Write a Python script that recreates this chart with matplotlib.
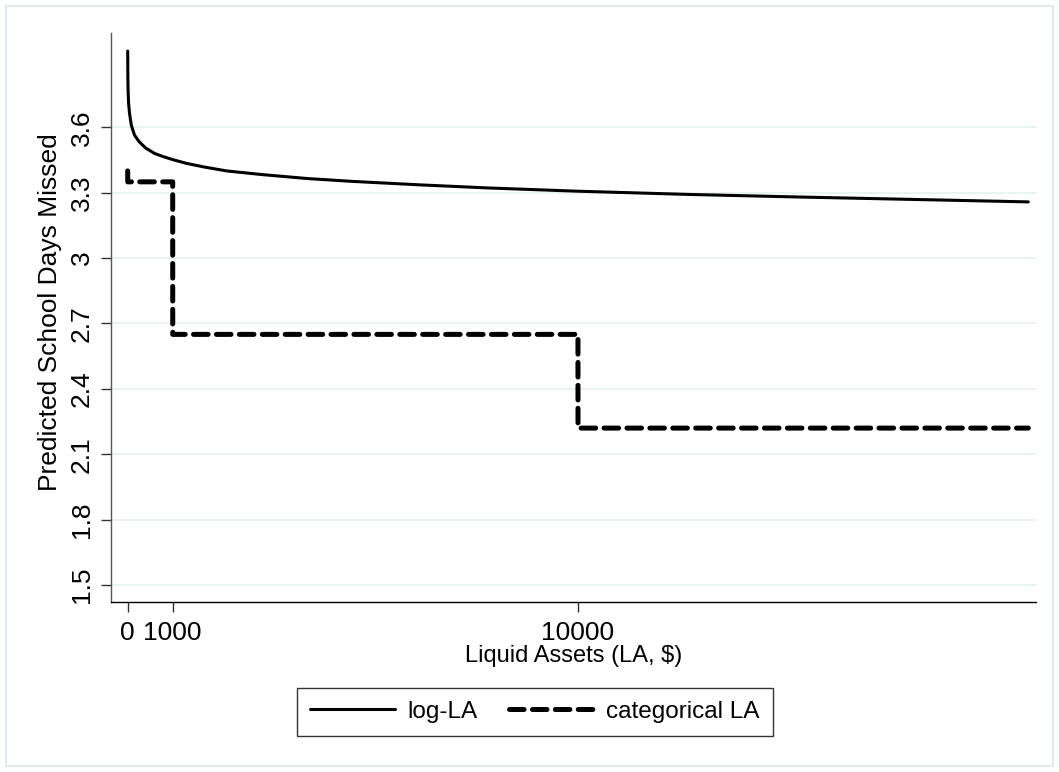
import matplotlib
matplotlib.use("Agg")
import matplotlib.pyplot as plt
from matplotlib.patches import Rectangle

# Data
log_x = [0, 2, 5, 10, 20, 40, 80, 150, 250, 400, 600, 800, 1000, 1300, 1700,
         2200, 3000, 4000, 5000, 6500, 8000, 10000, 12500, 15000, 17500, 20000]
log_y = [3.95, 3.87, 3.80, 3.76, 3.71, 3.665, 3.61, 3.565, 3.535, 3.505, 3.48,
         3.465, 3.452, 3.435, 3.418, 3.40, 3.383, 3.365, 3.352, 3.336, 3.322,
         3.307, 3.292, 3.280, 3.269, 3.258]
cat_x = [0, 1, 999, 1000, 9999, 10000, 20000]
cat_y = [3.40, 3.35, 3.35, 2.65, 2.65, 2.22, 2.22]

xticks = [0, 1000, 10000]
xtick_labels = ["0", "1000", "10000"]
yticks = [1.5, 1.8, 2.1, 2.4, 2.7, 3.0, 3.3, 3.6]
ytick_labels = ["1.5", "1.8", "2.1", "2.4", "2.7", "3", "3.3", "3.6"]

plt.rcParams['font.family'] = ['Liberation Sans', 'DejaVu Sans']
plt.rcParams['lines.scale_dashes'] = False

W, H = 1059, 772
fig = plt.figure(figsize=(W / 100, H / 100), dpi=100)
fig.patch.set_facecolor('white')

# outer frame
fig.patches.append(Rectangle((6 / W, 6 / H), 1047 / W, 760 / H,
                             transform=fig.transFigure, fill=False,
                             edgecolor='#e3eaef', linewidth=1.5))

ax = fig.add_axes([111 / W, 1 - 602 / H, (1036 - 111) / W, (602 - 33) / H])
ax.set_facecolor('white')

ax.plot(log_x, log_y, color='black', linewidth=2.2, label='log-LA',
        solid_capstyle='round', solid_joinstyle='round', zorder=3)
ax.plot(cat_x, cat_y, color='black', linewidth=3.6, label='categorical LA',
        dashes=(10.5, 6.0), dash_capstyle='round', dash_joinstyle='round',
        zorder=3)

ax.set_xlim(-371, 20171)
ax.set_ylim(1.422, 4.033)

ax.set_xticks(xticks)
ax.set_xticklabels(xtick_labels)
ax.set_yticks(yticks)
ax.set_yticklabels(ytick_labels, rotation=90, va='center')

ax.tick_params(axis='both', length=7.5, width=1, color='#333333',
               labelsize=19)
ax.tick_params(axis='x', pad=6)
ax.tick_params(axis='y', pad=5)
ax.yaxis.grid(True, color='#e8f0f2', linewidth=1.2)
ax.set_axisbelow(True)

for s in ['top', 'right']:
    ax.spines[s].set_visible(False)
ax.spines['left'].set_color('#555555')
ax.spines['bottom'].set_color('black')
ax.spines['left'].set_linewidth(1.0)
ax.spines['bottom'].set_linewidth(1.0)

ax.set_xlabel('Liquid Assets (LA, $)', fontsize=17, labelpad=0)
ax.set_ylabel('Predicted School Days Missed', fontsize=19)
ax.yaxis.set_label_coords(-0.053, 0.51)

leg = fig.legend(loc='center', bbox_to_anchor=(535 / W, 1 - 712 / H),
                 ncol=2, frameon=True, fancybox=False, edgecolor='black',
                 fontsize=17.5, handlelength=3.5, handletextpad=0.5,
                 columnspacing=1.3, borderpad=0.55)
leg.get_frame().set_linewidth(1.0)

fig.savefig('out.png', dpi=100, facecolor='white')
